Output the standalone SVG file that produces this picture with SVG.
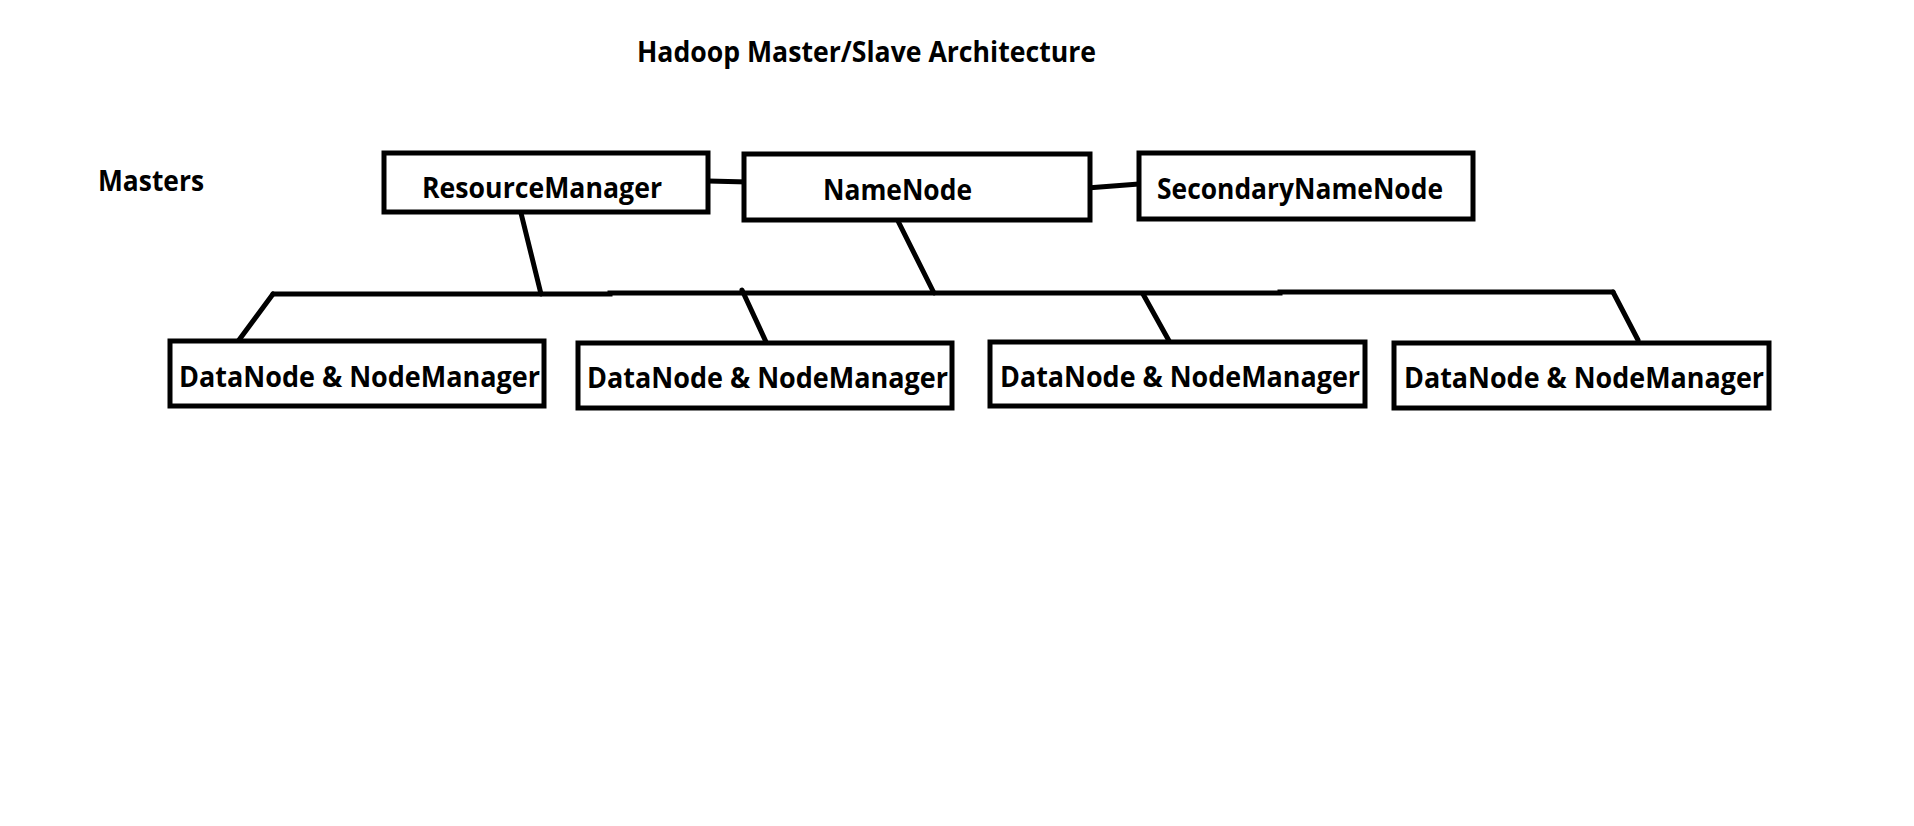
<svg xmlns="http://www.w3.org/2000/svg" width="1914" height="826" viewBox="0 0 1914 826">
<style>
.box{fill:#fff;stroke:#000;stroke-width:5}
.t{font-family:"Open Sans","Liberation Sans",sans-serif;font-weight:bold;font-size:29px;fill:#000}
.c{stroke:#000;stroke-width:5;fill:none;stroke-linecap:round}
</style>
<rect width="1914" height="826" fill="#fff"/>
<text class="t" x="637" y="62" textLength="459" lengthAdjust="spacingAndGlyphs">Hadoop Master/Slave Architecture</text>
<text class="t" x="98" y="191" textLength="106" lengthAdjust="spacingAndGlyphs">Masters</text>
<g id="connectors">
<line class="c" x1="708" y1="181" x2="748" y2="182"/>
<line class="c" x1="1087" y1="188" x2="1139" y2="184"/>
<line class="c" x1="520" y1="209" x2="541" y2="294"/>
<line class="c" x1="895" y1="215" x2="934" y2="293"/>
<polyline class="c" points="273,294 610,294 610,293 1280,293 1280,292 1613,292"/>
<line class="c" x1="273" y1="294" x2="239" y2="340"/>
<line class="c" x1="742" y1="290" x2="767" y2="344"/>
<line class="c" x1="1143" y1="294" x2="1173" y2="348"/>
<line class="c" x1="1613" y1="292" x2="1638" y2="340"/>
</g>
<g id="resourcemanager">
<rect class="box" x="384" y="153" width="324" height="59"/>
<text class="t" x="422" y="198" textLength="240" lengthAdjust="spacingAndGlyphs">ResourceManager</text>
</g>
<g id="namenode">
<rect class="box" x="744" y="154" width="346" height="66"/>
<text class="t" x="823" y="200" textLength="149" lengthAdjust="spacingAndGlyphs">NameNode</text>
</g>
<g id="secondarynamenode">
<rect class="box" x="1139" y="153" width="334" height="66"/>
<text class="t" x="1157" y="199" textLength="286" lengthAdjust="spacingAndGlyphs">SecondaryNameNode</text>
</g>
<g id="datanode1">
<rect class="box" x="170" y="341" width="374" height="65"/>
<text class="t" x="179" y="387" textLength="361" lengthAdjust="spacingAndGlyphs">DataNode &amp; NodeManager</text>
</g>
<g id="datanode2">
<rect class="box" x="578" y="343" width="374" height="65"/>
<text class="t" x="587" y="388" textLength="361" lengthAdjust="spacingAndGlyphs">DataNode &amp; NodeManager</text>
</g>
<g id="datanode3">
<rect class="box" x="990" y="342" width="375" height="64"/>
<text class="t" x="1000" y="387" textLength="360" lengthAdjust="spacingAndGlyphs">DataNode &amp; NodeManager</text>
</g>
<g id="datanode4">
<rect class="box" x="1394" y="343" width="375" height="65"/>
<text class="t" x="1404" y="388" textLength="360" lengthAdjust="spacingAndGlyphs">DataNode &amp; NodeManager</text>
</g>
</svg>
